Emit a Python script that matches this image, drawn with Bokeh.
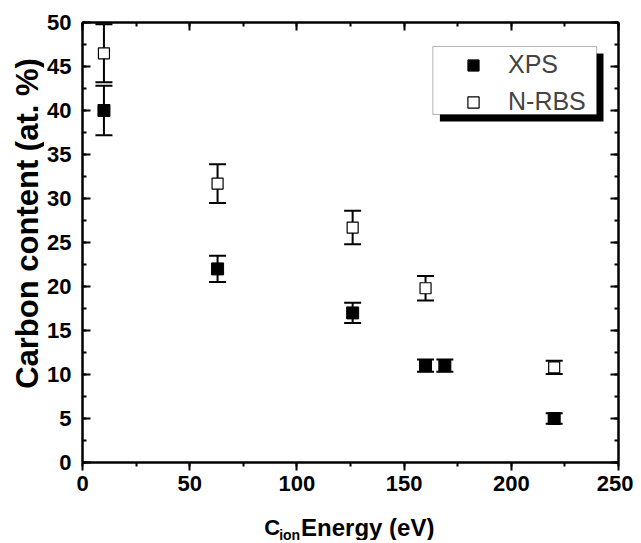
import math
from bokeh.plotting import figure
from bokeh.layouts import row, column
from bokeh.models import (ColumnDataSource, Whisker, TeeHead, LinearAxis, Range1d,
                          SingleIntervalTicker, Legend, LegendItem, BoxAnnotation)
from bokeh.core.properties import value
from bokeh.embed import file_html
from bokeh.resources import INLINE

# ---- data ----
energy_xps = [10, 63, 126, 160, 169, 220]
carbon_xps = [40.0, 22.0, 17.0, 11.0, 11.0, 5.0]
err_xps = [2.8, 1.5, 1.15, 0.7, 0.7, 0.6]

energy_rbs = [10, 63, 126, 160, 220]
carbon_rbs = [46.5, 31.7, 26.7, 19.8, 10.8]
err_rbs = [3.3, 2.2, 1.9, 1.4, 0.75]

x_ticks_interval = 50
y_ticks_interval = 5

x_title_parts = ["C", "ion", "Energy (eV)"]
y_title = "Carbon content (at. %)"

src_xps = ColumnDataSource(dict(x=energy_xps, y=carbon_xps,
                                lo=[v - e for v, e in zip(carbon_xps, err_xps)],
                                hi=[v + e for v, e in zip(carbon_xps, err_xps)]))
src_rbs = ColumnDataSource(dict(x=energy_rbs, y=carbon_rbs,
                                lo=[v - e for v, e in zip(carbon_rbs, err_rbs)],
                                hi=[v + e for v, e in zip(carbon_rbs, err_rbs)]))

FONT = "Liberation Sans"
TOTAL_W, TOTAL_H = 633, 540
YT_W = 44          # strip for the y title
P_H = 502          # main figure height
XT_H = TOTAL_H - P_H
FRAME_L, FRAME_R, FRAME_T, FRAME_B = 81, 618, 22, 462   # page pixels of the plot frame

p = figure(width=TOTAL_W - YT_W, height=P_H, output_backend="svg", toolbar_location=None,
           x_range=Range1d(0, 250), y_range=Range1d(0, 50),
           min_border_left=FRAME_L - YT_W, min_border_right=TOTAL_W - FRAME_R,
           min_border_top=FRAME_T, min_border_bottom=P_H - FRAME_B)
p.grid.visible = False
p.outline_line_color = None

def style_axis(ax, labels=True, ticks_in=True):
    ax.axis_line_width = 2.5
    ax.axis_line_color = "black"
    ax.major_tick_line_width = 2
    ax.minor_tick_line_width = 2
    if ticks_in:
        ax.major_tick_in, ax.major_tick_out = 8, 0
        ax.minor_tick_in, ax.minor_tick_out = 4, 0
    else:
        ax.major_tick_in, ax.major_tick_out = 0, 8
        ax.minor_tick_in, ax.minor_tick_out = 0, 4
    if labels:
        ax.major_label_text_font = FONT
        ax.major_label_text_font_style = "bold"
        ax.major_label_text_font_size = "22px"
        ax.major_label_text_color = "black"
    else:
        ax.major_label_text_font_size = "0px"
        ax.major_label_standoff = 0
    ax.axis_label = None

p.xaxis.ticker = SingleIntervalTicker(interval=x_ticks_interval, num_minor_ticks=2)
p.yaxis.ticker = SingleIntervalTicker(interval=y_ticks_interval, num_minor_ticks=2)
style_axis(p.xaxis[0], labels=True, ticks_in=False)
style_axis(p.yaxis[0], labels=True, ticks_in=True)
p.xaxis.major_label_standoff = 5
p.yaxis.major_label_standoff = 11

top = LinearAxis(ticker=SingleIntervalTicker(interval=x_ticks_interval, num_minor_ticks=2))
right = LinearAxis(ticker=SingleIntervalTicker(interval=y_ticks_interval, num_minor_ticks=2))
style_axis(top, labels=False)
style_axis(right, labels=False)
p.add_layout(top, "above")
p.add_layout(right, "right")

# error bars
for src in (src_xps, src_rbs):
    w = Whisker(source=src, base="x", upper="hi", lower="lo", dimension="height",
                line_width=2, line_color="black", level="underlay",
                upper_head=TeeHead(size=17, line_width=2, line_color="black"),
                lower_head=TeeHead(size=17, line_width=2, line_color="black"))
    p.add_layout(w)

r_xps = p.scatter("x", "y", source=src_xps, marker="square", size=12,
                  fill_color="black", line_color="black", line_width=1)
r_rbs = p.scatter("x", "y", source=src_rbs, marker="square", size=11,
                  fill_color="white", line_color="black", line_width=1.2)

# legend frame with drop shadow
shadow = BoxAnnotation(left=166.7, right=243.0, top=46.48, bottom=38.75,
                       fill_color="black", fill_alpha=1, line_color=None, level="overlay")
box = BoxAnnotation(left=163.4, right=239.8, top=47.27, bottom=39.55,
                    fill_color="white", fill_alpha=1, line_color="black", line_width=1,
                    level="overlay")
p.add_layout(shadow)
p.add_layout(box)

legend = Legend(items=[LegendItem(label="XPS", renderers=[r_xps]),
                       LegendItem(label="N-RBS", renderers=[r_rbs])],
                location=(371, 346), orientation="vertical",
                padding=0, spacing=8, glyph_width=40, glyph_height=28,
                label_height=28, label_standoff=15,
                label_text_font=FONT, label_text_font_size="25px",
                border_line_color=None, background_fill_alpha=0)
p.add_layout(legend, "center")

# ---- y title strip: frame forced to the main frame's vertical extent ----
fy = figure(width=YT_W, height=TOTAL_H, output_backend="svg", toolbar_location=None,
            title=None, x_range=Range1d(0, YT_W), y_range=Range1d(FRAME_B, FRAME_T),
            x_axis_type=None, y_axis_type=None,
            min_border_left=0, min_border_right=0,
            min_border_top=FRAME_T, min_border_bottom=TOTAL_H - FRAME_B)
fy.grid.visible = False
fy.outline_line_color = None
fy.text(x=[26.5], y=[223], text=[y_title], angle=math.pi / 2,
        text_font=value(FONT), text_font_style="bold", text_font_size="31px",
        text_align="center", text_baseline="middle", text_color="black")

# ---- x title strip: frame forced to the main frame's horizontal extent ----
fx = figure(width=TOTAL_W - YT_W, height=XT_H, output_backend="svg", toolbar_location=None,
            title=None, x_range=Range1d(FRAME_L, FRAME_R), y_range=Range1d(TOTAL_H, P_H),
            x_axis_type=None, y_axis_type=None,
            min_border_left=FRAME_L - YT_W, min_border_right=TOTAL_W - FRAME_R,
            min_border_top=0, min_border_bottom=0)
fx.grid.visible = False
fx.outline_line_color = None
fx.text(x=[263], y=[527], text=[x_title_parts[0]], text_font=value(FONT),
        text_font_style="bold", text_font_size="22px", text_baseline="alphabetic",
        text_align="left", text_color="black")
fx.text(x=[278], y=[534], text=[x_title_parts[1]], text_font=value(FONT),
        text_font_style="bold", text_font_size="14px", text_baseline="alphabetic",
        text_align="left", text_color="black")
fx.text(x=[300], y=[527], text=[x_title_parts[2]], text_font=value(FONT),
        text_font_style="bold", text_font_size="24px", text_baseline="alphabetic",
        text_align="left", text_color="black")

layout = row(fy, column(p, fx))
open("out.html", "w").write(file_html(layout, INLINE))
